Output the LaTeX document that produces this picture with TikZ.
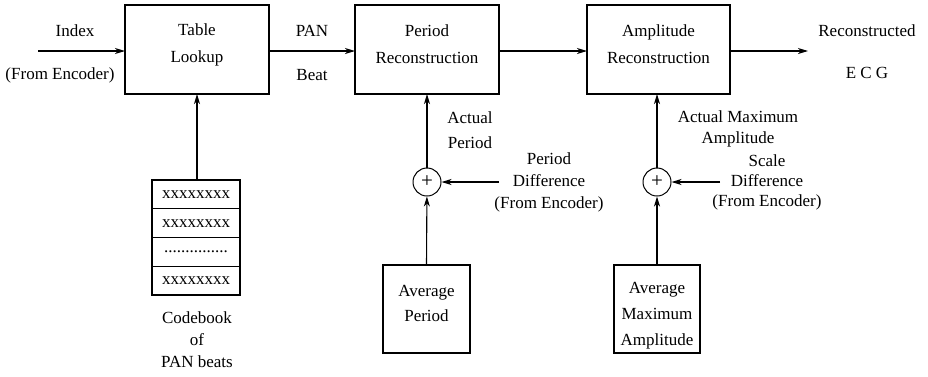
\documentclass[tikz,border=0pt]{standalone}
\usepackage{fontspec}
\setmainfont{Liberation Serif}
\usetikzlibrary{arrows.meta,positioning}

\tikzset{
  blk/.style={draw, line width=1.1pt, inner sep=0pt, outer sep=0pt},
  cbrow/.style={draw, line width=1.1pt, minimum width=88pt, minimum height=28.75pt, inner sep=0pt, outer sep=0pt, font=\fontsize{17}{20}\selectfont},
  sumnode/.style={draw, circle, line width=1pt, minimum size=28pt, inner sep=0pt, font=\fontsize{21}{22}\selectfont},
  lbl/.style={align=center, inner sep=0pt},
  conn/.style={line width=1.1pt, -{Stealth[length=10pt,width=6pt,inset=3pt]}}
}

\begin{document}
\begin{tikzpicture}[x=1pt,y=1pt,yscale=-1,font=\fontsize{17}{22}\selectfont]
\useasboundingbox (0,0) rectangle (928,376);

%Shape: Rectangle [Table Lookup]
\node [blk, minimum width=144pt, minimum height=89pt] (lookup) at (197,49.5) {};
%Shape: Rectangle [Period Reconstruction]
\node [blk, minimum width=144pt, minimum height=89pt] (perrec) at (427,49.5) {};
%Shape: Rectangle [Amplitude Reconstruction]
\node [blk, minimum width=143pt, minimum height=89pt] (amprec) at (658.5,49.5) {};
%Shape: Rectangle [Average Period]
\node [blk, minimum width=87pt, minimum height=88pt] (avgper) at (426.5,309) {};
%Shape: Rectangle [Average Maximum Amplitude]
\node [blk, minimum width=86pt, minimum height=88pt] (avgamp) at (657,309) {};

%Shape: Codebook rows
\node [cbrow] (cb1) at (196,194.4) {xxxxxxxx};
\node [cbrow, below=0pt of cb1] (cb2) {xxxxxxxx};
\node [cbrow, below=0pt of cb2] (cb3) {...............};
\node [cbrow, below=0pt of cb3] (cb4) {xxxxxxxx};

%Shape: Adders
\node [sumnode] (addper) at (427,182) {+};
\node [sumnode] (addamp) at (657,182) {+};

%Free ends
\coordinate (idxin) at (38,51);
\coordinate (ecgout) at (808,51);
\coordinate (perdiff) at (499,182);
\coordinate (scdiff) at (720,182);

%Straight Lines
\draw [conn] (idxin) -- (idxin -| lookup.west);
\draw [conn] (lookup.east |- idxin) -- (perrec.west |- idxin);
\draw [conn] (perrec.east |- idxin) -- (amprec.west |- idxin);
\draw [conn] (amprec.east |- idxin) -- (ecgout);
\draw [conn] (cb1.north -| lookup) -- (lookup.south);
\draw [conn] (addper) -- (perrec.south);
\draw [conn] (avgper.north) -- (addper);
\draw [conn] (perdiff) -- (addper);
\draw [conn] (addamp) -- (amprec.south -| addamp);
\draw [conn] (avgamp.north) -- (addamp);
\draw [conn] (scdiff) -- (addamp);

% Text Node
\node [lbl, font=\fontsize{17}{27}\selectfont] (lookuptxt) at (197,45) {Table\\Lookup};
% Text Node
\node [lbl, font=\fontsize{17}{27}\selectfont] (perrectxt) at (427,44) {Period\\Reconstruction};
% Text Node
\node [lbl, font=\fontsize{17}{27}\selectfont] (amprectxt) at (658.5,44.5) {Amplitude\\Reconstruction};
% Text Node
\node [lbl, font=\fontsize{17}{25}\selectfont] (avgpertxt) at (426.5,303) {Average\\Period};
% Text Node
\node [lbl, font=\fontsize{17}{26}\selectfont] (avgamptxt) at (657,316) {Average\\Maximum\\Amplitude};
% Text Node
\node [lbl] (idxtxt) at (75,31) {Index};
\node [lbl] (encatxt) at (60,75) {(From Encoder)};
% Text Node
\node [lbl] (pantxt) at (312,31) {PAN};
\node [lbl] (beattxt) at (312,75) {Beat};
% Text Node
\node [lbl] (rectxt) at (867,31) {Reconstructed};
\node [lbl] (ecgtxt) at (867,73) {E C G};
% Text Node
\node [lbl, font=\fontsize{17}{25}\selectfont] (actpertxt) at (470,130.5) {Actual\\Period};
% Text Node
\node [lbl] (perdifftxt) at (549,182) {Period\\Difference\\(From Encoder)};
% Text Node
\node [lbl, font=\fontsize{17}{21}\selectfont] (actamptxt) at (738,129) {Actual Maximum\\Amplitude};
% Text Node
\node [lbl, font=\fontsize{17}{20}\selectfont] (scdifftxt) at (767,182.5) {Scale\\Difference\\(From Encoder)};
% Text Node
\node [lbl] (cbtxt) at (197,340) {Codebook\\of\\PAN beats};
\end{tikzpicture}
\end{document}
